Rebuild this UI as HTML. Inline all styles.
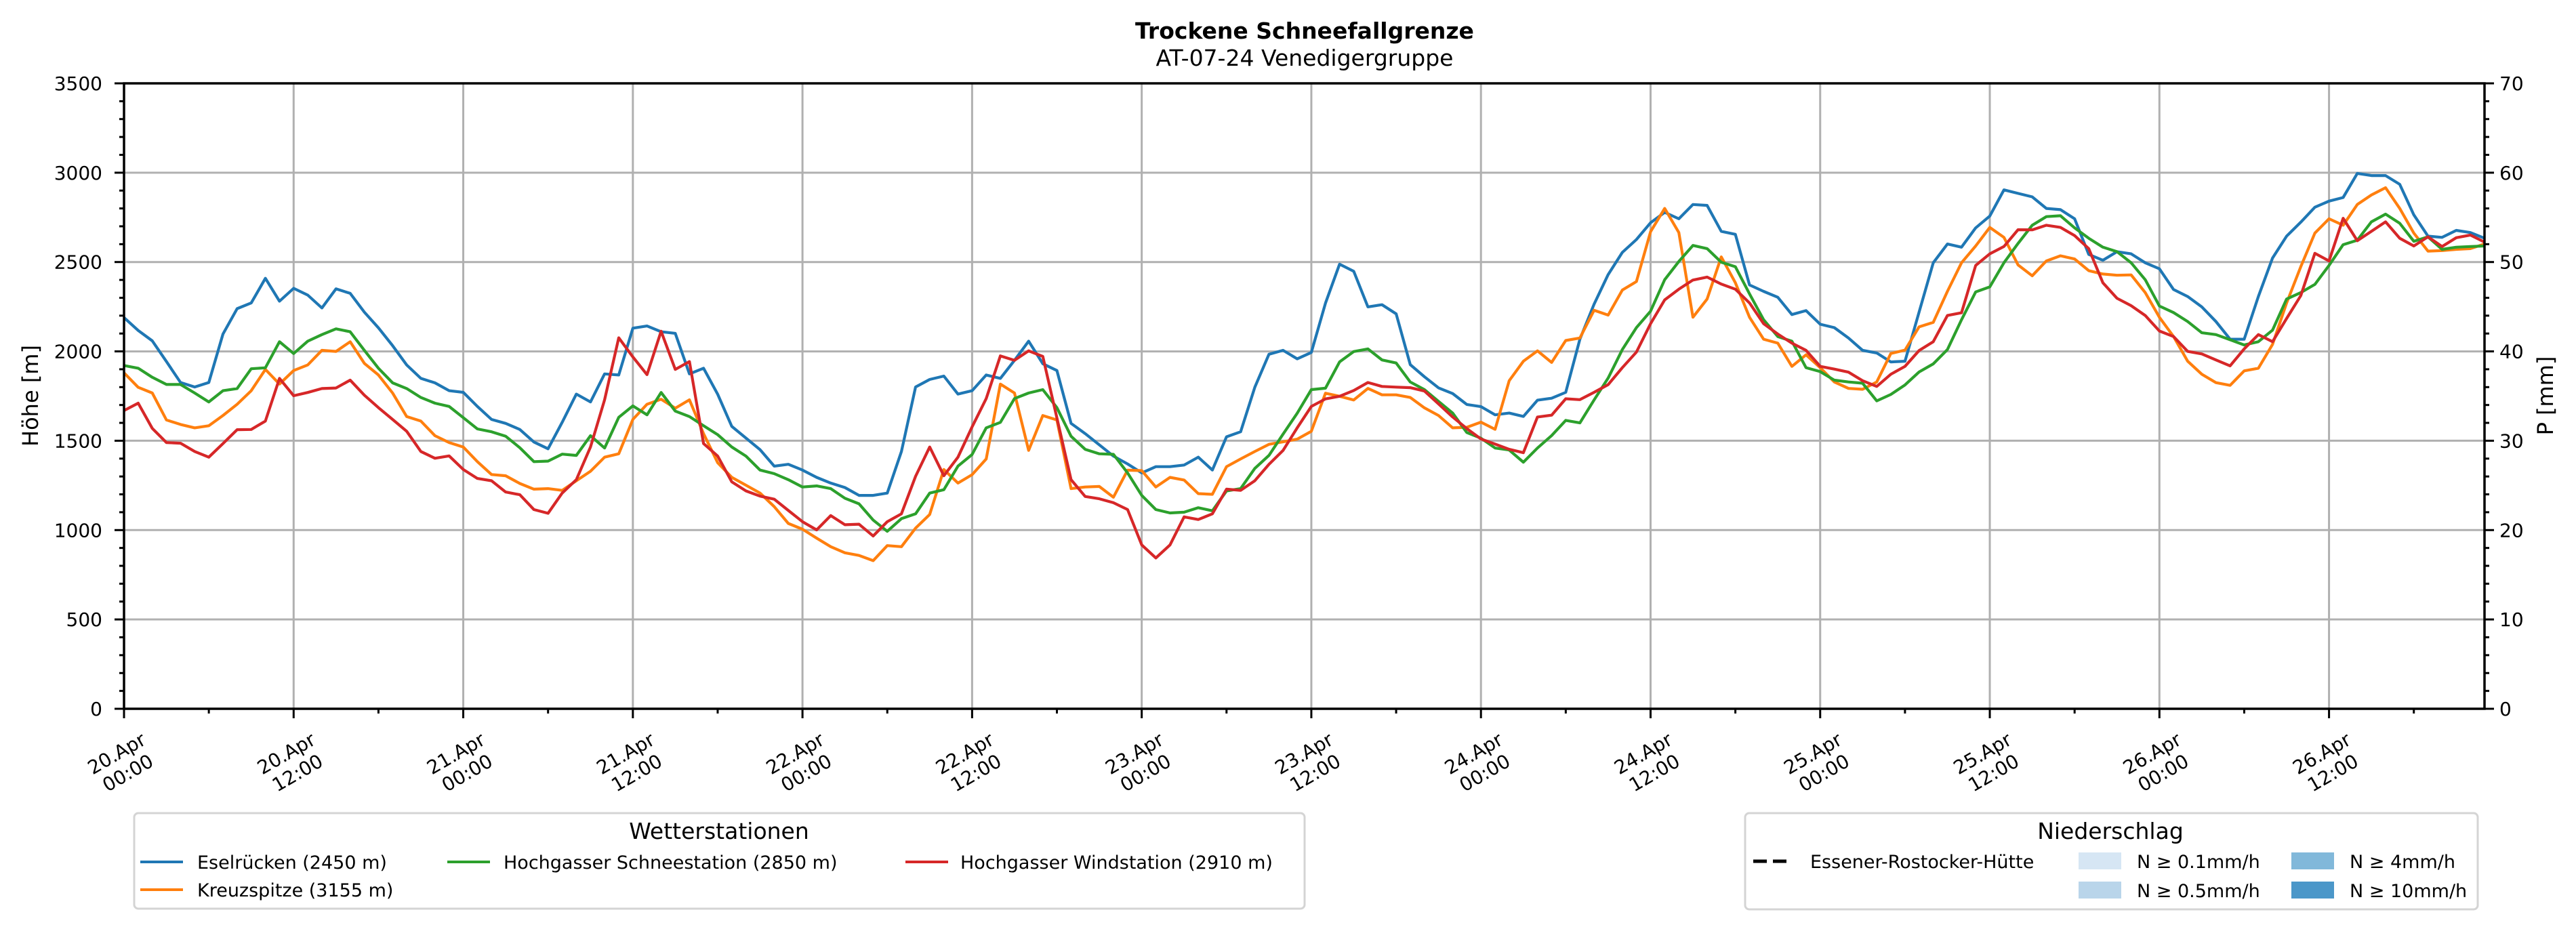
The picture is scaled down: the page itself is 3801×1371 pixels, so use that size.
<!DOCTYPE html>
<html><head><meta charset="utf-8"><title>Trockene Schneefallgrenze</title>
<style>
html,body{margin:0;padding:0;background:#fff;}
svg{display:block;font-family:"DejaVu Sans","Liberation Sans",sans-serif;}
</style></head>
<body>
<svg id="chart" xmlns="http://www.w3.org/2000/svg" width="3801" height="1371" viewBox="0 0 3801 1371">
  <rect x="0" y="0" width="3801" height="1371" fill="#fff"/>
  <text x="1925" y="57" font-size="33" font-weight="bold" text-anchor="middle">Trockene Schneefallgrenze</text>
  <text x="1925" y="97" font-size="33" text-anchor="middle">AT-07-24 Venedigergruppe</text>
  <g id="grid"></g>
  <g id="series"></g>
  <g id="axes"></g>
  <text transform="translate(56,584) rotate(-90)" font-size="32" text-anchor="middle">Höhe [m]</text>
  <text transform="translate(3767,584) rotate(-90)" font-size="32" text-anchor="middle">P [mm]</text>

  <g>
    <rect x="198" y="1200" width="1727" height="141" rx="6" fill="#fff" stroke="#d4d4d4" stroke-width="3"/>
    <text x="1061" y="1238" font-size="33" text-anchor="middle">Wetterstationen</text>
    <g>
      <line x1="207" y1="1272" x2="270" y2="1272" stroke="#1f77b4" stroke-width="4"/>
      <text x="291" y="1282" font-size="27">Eselrücken (2450 m)</text>
    </g>
    <g>
      <line x1="207" y1="1313" x2="270" y2="1313" stroke="#ff7f0e" stroke-width="4"/>
      <text x="291" y="1323" font-size="27">Kreuzspitze (3155 m)</text>
    </g>
    <g>
      <line x1="660" y1="1272" x2="723" y2="1272" stroke="#2ca02c" stroke-width="4"/>
      <text x="743" y="1282" font-size="27">Hochgasser Schneestation (2850 m)</text>
    </g>
    <g>
      <line x1="1336" y1="1272" x2="1399" y2="1272" stroke="#d62728" stroke-width="4"/>
      <text x="1417" y="1282" font-size="27">Hochgasser Windstation (2910 m)</text>
    </g>
  </g>

  <g>
    <rect x="2575" y="1200" width="1081" height="142" rx="6" fill="#fff" stroke="#d4d4d4" stroke-width="3"/>
    <text x="3114" y="1238" font-size="33" text-anchor="middle">Niederschlag</text>
    <g>
      <line x1="2587" y1="1271" x2="2643" y2="1271" stroke="#000" stroke-width="5" stroke-dasharray="20,9"/>
      <text x="2671" y="1281" font-size="27">Essener-Rostocker-Hütte</text>
    </g>
    <g>
      <rect x="3067" y="1258" width="63" height="25" fill="#d6e6f4"/>
      <text x="3153" y="1281" font-size="27">N ≥ 0.1mm/h</text>
    </g>
    <g>
      <rect x="3067" y="1301" width="63" height="25" fill="#b9d5ea"/>
      <text x="3153" y="1324" font-size="27">N ≥ 0.5mm/h</text>
    </g>
    <g>
      <rect x="3381" y="1258" width="63" height="25" fill="#81b8da"/>
      <text x="3467" y="1281" font-size="27">N ≥ 4mm/h</text>
    </g>
    <g>
      <rect x="3381" y="1301" width="63" height="25" fill="#4b97c9"/>
      <text x="3467" y="1324" font-size="27">N ≥ 10mm/h</text>
    </g>
  </g>
</svg>
<script>
// Hourly series, 20.Apr 00:00 .. 26.Apr 23:00 (h = 0..167)
const eselrueckenValues = [2189,2117,2059,1943,1826,1801,1826,2097,2239,2271,
2409,2281,2353,2315,2243,2350,2325,2220,2132,2032,
1924,1849,1824,1780,1771,1692,1619,1597,1563,1493,
1455,1603,1761,1717,1874,1868,2130,2142,2110,2101,
1874,1906,1760,1580,1515,1450,1358,1368,1336,1295,
1263,1238,1194,1194,1207,1440,1801,1843,1862,1761,
1780,1868,1849,1950,2057,1931,1893,1597,1540,1477,
1414,1370,1320,1355,1355,1364,1408,1336,1522,1550,
1799,1984,2006,1958,1994,2270,2488,2448,2249,2261,
2210,1926,1858,1796,1764,1703,1691,1645,1655,1636,
1727,1738,1771,2068,2264,2430,2554,2626,2720,2778,
2742,2822,2817,2672,2655,2372,2336,2303,2206,2228,
2152,2133,2075,2006,1991,1941,1945,2220,2496,2601,
2583,2691,2757,2904,2884,2865,2800,2793,2742,2543,
2510,2558,2546,2496,2462,2346,2307,2249,2167,2068,
2068,2307,2522,2645,2723,2807,2841,2861,2996,2984,
2984,2935,2764,2645,2638,2677,2665,2633];
const kreuzspitzeValues = [1880,1799,1767,1616,1591,1572,1584,1641,1704,1780,
1899,1817,1893,1924,2006,2000,2054,1933,1868,1767,
1635,1610,1528,1490,1465,1383,1311,1304,1261,1229,
1232,1222,1276,1329,1408,1427,1619,1704,1732,1682,
1729,1540,1377,1295,1251,1207,1131,1037,1005,955,
907,873,858,829,913,907,1011,1087,1339,1263,
1310,1398,1817,1767,1446,1641,1616,1232,1241,1244,
1184,1335,1333,1241,1295,1280,1204,1200,1355,1398,
1440,1480,1494,1509,1553,1766,1749,1728,1793,1757,
1757,1742,1684,1641,1572,1575,1604,1564,1836,1945,
2003,1938,2061,2075,2230,2203,2343,2391,2670,2800,
2665,2191,2293,2529,2384,2191,2068,2046,1916,1981,
1909,1829,1793,1788,1829,1988,2007,2137,2162,2336,
2496,2590,2694,2638,2484,2423,2506,2535,2517,2452,
2433,2426,2428,2329,2191,2083,1945,1872,1825,1810,
1891,1906,2039,2271,2474,2662,2742,2706,2822,2875,
2916,2800,2662,2561,2564,2571,2575,2601];
const schneestationValues = [1921,1906,1855,1815,1815,1767,1717,1780,1792,1903,
1908,2054,1988,2057,2094,2126,2110,2006,1906,1824,
1792,1742,1710,1692,1629,1566,1550,1525,1461,1383,
1386,1425,1418,1528,1459,1631,1695,1645,1770,1666,
1635,1584,1534,1465,1414,1336,1316,1282,1241,1247,
1232,1178,1147,1056,993,1064,1091,1207,1226,1358,
1423,1572,1603,1736,1767,1786,1685,1525,1452,1427,
1424,1320,1194,1115,1096,1100,1125,1108,1219,1232,
1345,1418,1537,1654,1786,1794,1941,1999,2014,1952,
1935,1829,1786,1720,1655,1546,1514,1459,1448,1380,
1459,1529,1614,1600,1728,1851,2010,2133,2225,2401,
2503,2593,2575,2499,2474,2322,2177,2083,2057,1909,
1887,1839,1829,1822,1723,1759,1812,1885,1930,2010,
2177,2333,2361,2496,2604,2706,2754,2759,2691,2633,
2583,2558,2496,2401,2254,2217,2167,2104,2094,2065,
2036,2054,2119,2293,2329,2375,2481,2597,2622,2725,
2768,2717,2616,2641,2571,2583,2587,2590];
const windstationValues = [1669,1710,1569,1490,1486,1440,1408,1484,1562,1563,
1610,1849,1752,1770,1792,1795,1839,1755,1685,1619,
1553,1440,1402,1415,1339,1289,1276,1213,1198,1115,
1094,1207,1282,1465,1729,2076,1969,1870,2113,1899,
1943,1484,1414,1270,1219,1190,1173,1110,1047,1001,
1081,1030,1033,967,1047,1091,1301,1465,1304,1408,
1578,1736,1975,1950,2003,1972,1628,1282,1188,1175,
1153,1115,917,844,917,1074,1059,1091,1229,1222,
1276,1368,1446,1572,1692,1734,1749,1781,1826,1804,
1800,1797,1778,1706,1633,1568,1510,1481,1452,1433,
1633,1643,1735,1730,1771,1814,1909,1996,2155,2288,
2348,2399,2416,2377,2348,2271,2155,2097,2046,2006,
1916,1901,1884,1836,1804,1872,1916,2005,2054,2201,
2216,2481,2546,2587,2681,2680,2706,2694,2648,2575,
2384,2297,2256,2201,2114,2083,2000,1986,1952,1919,
2014,2094,2054,2184,2312,2549,2506,2745,2619,2672,
2725,2633,2590,2641,2587,2636,2651,2612];
const xTickDays = ["20.Apr","20.Apr","21.Apr","21.Apr","22.Apr","22.Apr","23.Apr","23.Apr","24.Apr","24.Apr","25.Apr","25.Apr","26.Apr","26.Apr"];
const xTickTimes = ["00:00","12:00","00:00","12:00","00:00","12:00","00:00","12:00","00:00","12:00","00:00","12:00","00:00","12:00"];
const yTicks = [0,500,1000,1500,2000,2500,3000,3500];
const y2Ticks = [0,10,20,30,40,50,60,70];

const NS = "http://www.w3.org/2000/svg";
const L = 183, R = 3666, T = 123, B = 1046;
const H_MAX = 167, Y_MAX = 3500, Y2_MAX = 70;
function xs(h){ return L + h * (R - L) / H_MAX; }
function ys(v){ return B - v * (B - T) / Y_MAX; }
function y2s(v){ return B - v * (B - T) / Y2_MAX; }
function mk(tag, attrs, parent){
  const e = document.createElementNS(NS, tag);
  for (const k in attrs) e.setAttribute(k, attrs[k]);
  parent.appendChild(e);
  return e;
}
const grid = document.getElementById('grid');
const axes = document.getElementById('axes');
const series = document.getElementById('series');

yTicks.forEach(v => {
  if (v === 0 || v === Y_MAX) return;
  const g = mk('line', {x1:L, x2:R, y1:ys(v), y2:ys(v), stroke:'#b0b0b0', 'stroke-width':3}, grid);
  
  
});
xTickDays.forEach((d, i) => {
  const h = i * 12;
  if (h === 0) return;
  const g = mk('line', {x1:xs(h), x2:xs(h), y1:T, y2:B, stroke:'#b0b0b0', 'stroke-width':3}, grid);
  
  
});

const seriesList = [
  ['eselruecken-line', eselrueckenValues, '#1f77b4'],
  ['kreuzspitze-line', kreuzspitzeValues, '#ff7f0e'],
  ['schneestation-line', schneestationValues, '#2ca02c'],
  ['windstation-line', windstationValues, '#d62728']
];
seriesList.forEach(s => {
  const pts = s[1].map((v, h) => xs(h).toFixed(1) + ',' + ys(v).toFixed(1)).join(' ');
  const p = mk('polyline', {points:pts, fill:'none', stroke:s[2], 'stroke-width':4.2, 'stroke-linejoin':'round'}, series);
  
  
});

const frame = mk('rect', {x:L, y:T, width:R-L, height:B-T, fill:'none', stroke:'#000', 'stroke-width':3.5}, axes);



for (let v = 0; v <= Y_MAX; v += 100) {
  const major = v % 500 === 0;
  const t = mk('line', {x1:L - (major ? 14 : 7), x2:L, y1:ys(v), y2:ys(v), stroke:'#000', 'stroke-width':3}, axes);
  
  
}
yTicks.forEach(v => {
  const t = mk('text', {x:151, y:ys(v) + 10, 'font-size':28, 'text-anchor':'end'}, axes);
  t.textContent = v;
  
  
});
for (let v = 0; v <= Y2_MAX; v += 2) {
  const major = v % 10 === 0;
  const t = mk('line', {x1:R, x2:R + (major ? 14 : 7), y1:y2s(v), y2:y2s(v), stroke:'#000', 'stroke-width':3}, axes);
  
  
}
y2Ticks.forEach(v => {
  const t = mk('text', {x:R + 22, y:y2s(v) + 10, 'font-size':28, 'text-anchor':'start'}, axes);
  t.textContent = v;
  
  
});
for (let h = 0; h <= H_MAX; h += 6) {
  const major = h % 12 === 0;
  const t = mk('line', {x1:xs(h), x2:xs(h), y1:B, y2:B + (major ? 14 : 7), stroke:'#000', 'stroke-width':3}, axes);
  
  
}
xTickDays.forEach((d, i) => {
  const cx = xs(i * 12) - 4, cy = 1124;
  const t = mk('text', {'font-size':28, 'text-anchor':'middle', transform:'translate(' + cx + ',' + cy + ') rotate(-30)'}, axes);
  
  
  const a = mk('tspan', {x:0, y:-4}, t);
  a.textContent = d;
  const b = mk('tspan', {x:0, y:29}, t);
  b.textContent = xTickTimes[i];
});
</script>
</body></html>
